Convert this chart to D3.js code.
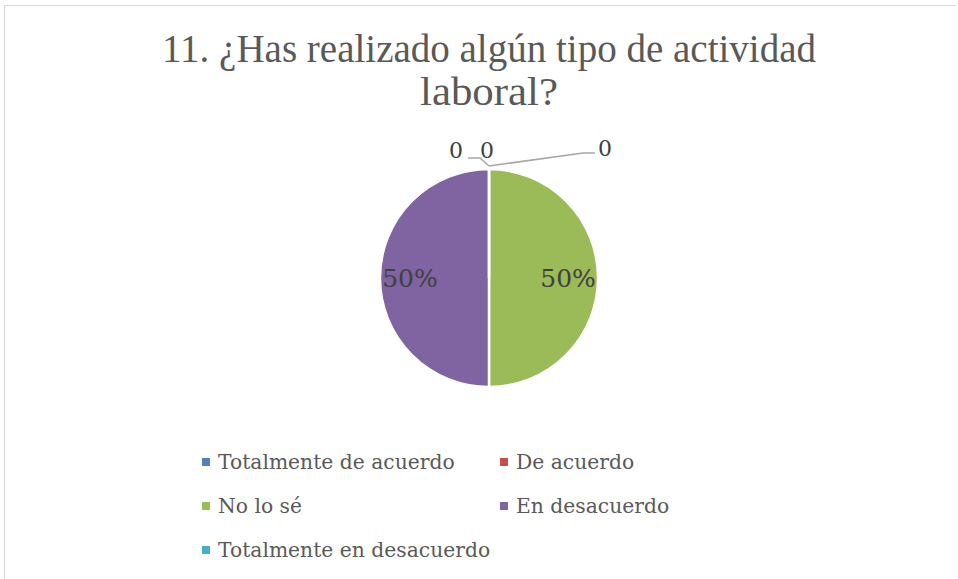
<!DOCTYPE html>
<html lang="es">
<head>
<meta charset="UTF-8">
<title>11. ¿Has realizado algún tipo de actividad laboral?</title>
<script src="https://d3js.org/d3.v7.min.js"></script>
<style>
    body { margin: 0; background: #fff; }
    svg text { font-family: "DejaVu Serif", "Liberation Serif", serif; }
    svg text.title { font-family: "Liberation Serif", "DejaVu Serif", serif; }
</style>
</head>
<body>
<div id="chart"></div>
<script>
    // data
    const categories = ["Totalmente de acuerdo", "De acuerdo", "No lo sé", "En desacuerdo", "Totalmente en desacuerdo"];
    const values = [0, 0, 50, 50, 0];
    const colors = ["#4F81BD", "#C0504D", "#9BBB59", "#8064A2", "#4BACC6"];
    const titleLines = ["11. ¿Has realizado algún tipo de actividad", "laboral?"];

    const width = 958, height = 579;
    const cx = 489, cy = 278, radius = 109;

    const svg = d3.select("#chart").append("svg")
        .attr("width", width)
        .attr("height", height);

    // chart frame (only top and left edges show)
    svg.append("path")
        .attr("d", `M4.5,${height} V5.5 H956`)
        .attr("fill", "none")
        .attr("stroke", "#d9d9d9")
        .attr("stroke-width", 1.2);

    // title
    svg.append("text")
        .attr("class", "title")
        .attr("x", cx).attr("y", 62)
        .attr("text-anchor", "middle")
        .attr("font-size", 40)
        .attr("fill", "#595959")
        .attr("textLength", 654)
        .attr("lengthAdjust", "spacingAndGlyphs")
        .text(titleLines[0]);
    svg.append("text")
        .attr("class", "title")
        .attr("x", cx).attr("y", 105)
        .attr("text-anchor", "middle")
        .attr("font-size", 40)
        .attr("fill", "#595959")
        .attr("textLength", 138)
        .attr("lengthAdjust", "spacingAndGlyphs")
        .text(titleLines[1]);

    const pie = d3.pie().sort(null).value(d => d)
        .startAngle(0).endAngle(2 * Math.PI);
    const arcs = pie(values);
    const arc = d3.arc().innerRadius(0).outerRadius(radius);
    const labelArc = d3.arc().innerRadius(radius * 0.725).outerRadius(radius * 0.725);

    const g = svg.append("g").attr("transform", `translate(${cx},${cy})`);

    g.selectAll("path.slice")
        .data(arcs)
        .join("path")
        .attr("class", "slice")
        .attr("d", arc)
        .attr("fill", (d, i) => colors[i])
        .attr("stroke", "#fff")
        .attr("stroke-width", 2.5);

    const total = d3.sum(values);
    g.selectAll("text.pct")
        .data(arcs.filter(d => d.value > 0))
        .join("text")
        .attr("class", "pct")
        .attr("transform", d => `translate(${labelArc.centroid(d)})`)
        .attr("text-anchor", "middle")
        .attr("dy", "0.35em")
        .attr("font-size", 25)
        .attr("fill", "#404040")
        .text(d => d3.format(".0%")(d.value / total));

    // zero slices: labels pulled out with leader lines (offsets from the slice point)
    const zeroArcs = arcs.filter(d => d.value === 0);
    const zeroOffsets = [
        { lx: -2, ly: -11, pts: null },
        { lx: 116, ly: -13, pts: [[0, -3], [94, -16], [106, -16]] },
        { lx: -33, ly: -11, pts: [[0, -3], [-9, -11], [-21, -11]] }
    ];
    zeroArcs.forEach((d, k) => {
        const a = d.startAngle;
        const px = Math.sin(a) * radius, py = -Math.cos(a) * radius;
        const o = zeroOffsets[k];
        if (o.pts) {
            g.append("path")
                .attr("d", d3.line()(o.pts.map(p => [px + p[0], py + p[1]])))
                .attr("fill", "none")
                .attr("stroke", "#a6a6a6")
                .attr("stroke-width", 1.5);
        }
        g.append("text")
            .attr("x", px + o.lx).attr("y", py + o.ly)
            .attr("text-anchor", "middle")
            .attr("font-size", 22)
            .attr("fill", "#404040")
            .text(d3.format("d")(d.value));
    });

    // legend
    const legendCols = [206, 504], legendRows = [462, 506, 550];
    const legend = svg.append("g");
    categories.forEach((c, i) => {
        const x = legendCols[i % 2], y = legendRows[Math.floor(i / 2)];
        legend.append("rect")
            .attr("x", x - 4).attr("y", y - 4)
            .attr("width", 8).attr("height", 8)
            .attr("fill", colors[i]);
        legend.append("text")
            .attr("x", x + 12).attr("y", y)
            .attr("dy", "0.35em")
            .attr("font-size", 20.3)
            .attr("fill", "#595959")
            .text(c);
    });
</script>
</body>
</html>
